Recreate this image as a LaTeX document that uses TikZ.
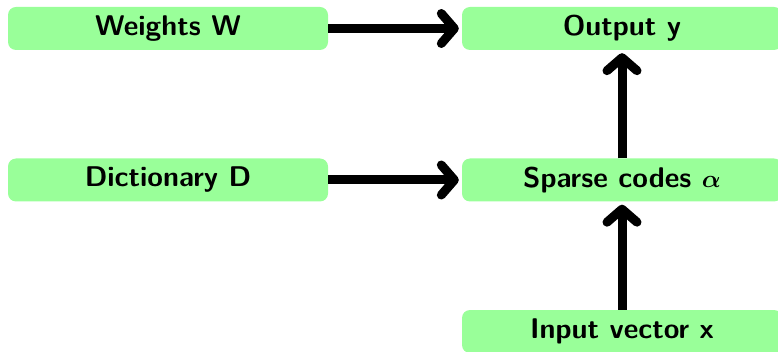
\documentclass[tikz,border=0pt]{standalone}
\usetikzlibrary{arrows.meta}
\begin{document}
\begin{tikzpicture}[x=1pt,y=-1pt,
  block/.style={fill=green!40, rounded corners=8pt, minimum width=320pt, minimum height=43pt,
    inner sep=0pt, font=\fontsize{28.5}{34}\selectfont\sffamily\bfseries\boldmath},
  flow/.style={line width=9pt, -{Straight Barb[round,length=13pt,width=30pt]}, shorten >=3pt}]
  \useasboundingbox (0,0) rectangle (778,352);
  % left column: parameters
  \node[block] (w) at (168,28.5) {Weights W};
  \node[block] (d) at (168,180) {Dictionary D};
  % right column: data path
  \node[block] (y) at (622,28.5) {Output y};
  \node[block] (a) at (622,180) {Sparse codes $\alpha$};
  \node[block] (x) at (622,331.5) {Input vector x};
  % connectors
  \draw[flow] (w) -- (y);
  \draw[flow] (d) -- (a);
  \draw[flow] (a) -- (y);
  \draw[flow] (x) -- (a);
\end{tikzpicture}
\end{document}
